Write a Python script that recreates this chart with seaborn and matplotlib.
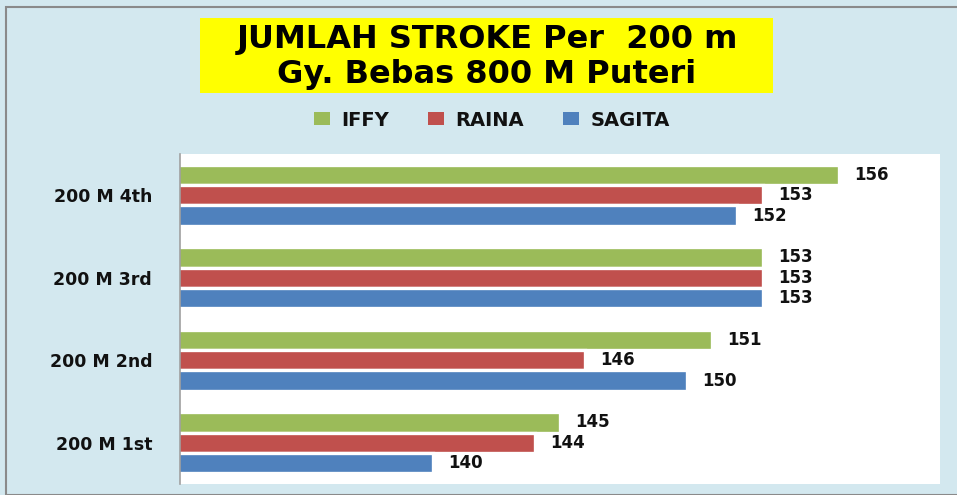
import matplotlib
matplotlib.use("Agg")
import matplotlib.pyplot as plt
import matplotlib.patches as mpatches
import seaborn as sns
import pandas as pd

categories = ["200 M 4th", "200 M 3rd", "200 M 2nd", "200 M 1st"]
swimmers = ["IFFY", "RAINA", "SAGITA"]
iffy = [156, 153, 151, 145]
raina = [153, 153, 146, 144]
sagita = [152, 153, 150, 140]
colors = ["#9BBB59", "#C0504D", "#4F81BD"]
title_lines = ["JUMLAH STROKE Per  200 m", "Gy. Bebas 800 M Puteri"]

rows = []
for name, vals in zip(swimmers, [iffy, raina, sagita]):
    for c, v in zip(categories, vals):
        rows.append({"Lap": c, "Swimmer": name, "Stroke": v})
df = pd.DataFrame(rows)

sns.set_theme(style="white")
plt.rcParams["font.family"] = ["DejaVu Sans"]

fig = plt.figure(figsize=(9.57, 4.95), dpi=100)
fig.patch.set_facecolor("#d3e8ef")
ax = fig.add_axes([180/957, 1-484/495, (940-180)/957, (484-154)/495])
ax.set_facecolor("white")

sns.barplot(data=df, y="Lap", x="Stroke", hue="Swimmer", order=categories,
            hue_order=swimmers, palette=colors, saturation=1, orient="h", width=0.74,
            edgecolor="white", linewidth=2.4, ax=ax, legend=False)

ax.set_xlim(130, 160)
ax.set_ylim(3.5, -0.5)
ax.set_xlabel("")
ax.set_ylabel("")
ax.set_xticks([])
ax.tick_params(axis="y", length=0, pad=20)
for lbl in ax.get_yticklabels():
    lbl.set_fontweight("bold")
    lbl.set_fontsize(12.5)
    lbl.set_color("#111111")
for s in ["top", "right", "bottom"]:
    ax.spines[s].set_visible(False)
ax.spines["left"].set_color("#a0a0a0")
ax.spines["left"].set_linewidth(1.2)

for cont in ax.containers:
    ax.bar_label(cont, fmt="%d", padding=11, fontsize=12, fontweight="bold",
                 color="#111111")

# title box
fig.patches.append(mpatches.Rectangle((200/957, 1-93/495), (773-200)/957, 75/495,
                                      transform=fig.transFigure, facecolor="#FFFF00",
                                      edgecolor="none", zorder=0))
fig.text(487/957, 1-48/495, title_lines[0], ha="center", va="baseline",
         fontsize=23, fontweight="bold", color="#000000")
fig.text(487/957, 1-83/495, title_lines[1], ha="center", va="baseline",
         fontsize=23, fontweight="bold", color="#000000")

handles = [mpatches.Patch(facecolor=c, edgecolor="none", label=n) for c, n in zip(colors, swimmers)]
leg = fig.legend(handles=handles, loc="center", bbox_to_anchor=(492/957, 1-120/495),
                 ncol=3, frameon=False, handlelength=0.8, handleheight=0.6,
                 columnspacing=2.0, handletextpad=0.6,
                 prop={"weight": "bold", "size": 14})
for t in leg.get_texts():
    t.set_color("#111111")

# outer frame
fig.patches.append(mpatches.Rectangle((6/957, 0), 1, 1-7/495, transform=fig.transFigure,
                                      facecolor="none", edgecolor="#8a8a8a", linewidth=1.5))

fig.savefig("out.png", dpi=100, facecolor=fig.get_facecolor())
